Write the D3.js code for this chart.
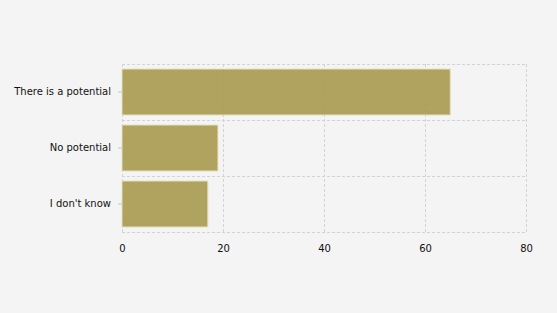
<!DOCTYPE html>
<html>
<head>
<meta charset="utf-8">
<script src="https://cdn.jsdelivr.net/npm/d3@7"></script>
<style>
  html, body { margin: 0; padding: 0; background: #f4f4f4; }
  svg { display: block; }
</style>
</head>
<body>
<div id="chart"></div>
<script>
// answers and their counts
var categories = ["There is a potential", "No potential", "I don't know"];
var values = [65, 19, 17];
var xTicks = [0, 20, 40, 60, 80];

var W = 557, H = 313;
var margin = {top: 64, right: 31, bottom: 81, left: 122},
    width = W - margin.left - margin.right,
    height = H - margin.top - margin.bottom;

var svg = d3.select("#chart")
  .append("svg")
    .attr("width", W)
    .attr("height", H)
    .style("background", "#f4f4f4")
  .append("g")
    .attr("transform", "translate(" + margin.left + "," + margin.top + ")");

var x = d3.scaleLinear()
  .domain([0, 80])
  .range([0, width]);

var y = d3.scaleBand()
  .domain(categories)
  .range([0, height]);

var grid = "#d3d3d3";

// vertical grid lines
svg.append("g")
  .selectAll("line")
  .data(xTicks)
  .enter()
  .append("line")
    .attr("x1", function(d) { return x(d) + 0.5; })
    .attr("x2", function(d) { return x(d) + 0.5; })
    .attr("y1", 0)
    .attr("y2", height)
    .attr("stroke", grid)
    .attr("stroke-dasharray", "3,2");

// horizontal grid lines at band edges
var edges = categories.map(function(c) { return y(c); }).concat([height]);
svg.append("g")
  .selectAll("line")
  .data(edges)
  .enter()
  .append("line")
    .attr("x1", 0)
    .attr("x2", width)
    .attr("y1", function(d) { return Math.round(d) + 0.5; })
    .attr("y2", function(d) { return Math.round(d) + 0.5; })
    .attr("stroke", grid)
    .attr("stroke-dasharray", "3,2");

// bars
svg.append("g")
  .selectAll("rect")
  .data(values)
  .enter()
  .append("rect")
    .attr("x", x(0))
    .attr("y", function(d, i) { return y(categories[i]) + 5; })
    .attr("width", function(d) { return x(d) - x(0); })
    .attr("height", y.bandwidth() - 10)
    .attr("fill", "#a99a50")
    .attr("fill-opacity", 0.9)
    .attr("stroke", "#e4dfc0")
    .attr("stroke-width", 1);

// y axis
var yAxis = svg.append("g")
  .call(d3.axisLeft(y).tickSize(4).tickPadding(7));
yAxis.select(".domain").remove();
yAxis.selectAll(".tick line").attr("stroke", "#c8c8c8");
yAxis.selectAll("text")
  .attr("fill", "#111")
  .style("font-family", "DejaVu Sans, Verdana, sans-serif")
  .style("font-size", "10px");

// x axis
var xAxis = svg.append("g")
  .attr("transform", "translate(0," + height + ")")
  .call(d3.axisBottom(x).tickValues(xTicks).tickSize(0).tickPadding(13));
xAxis.select(".domain").remove();
xAxis.selectAll("text")
  .attr("fill", "#111")
  .style("font-family", "DejaVu Sans, Verdana, sans-serif")
  .style("font-size", "10px");
</script>
</body>
</html>
